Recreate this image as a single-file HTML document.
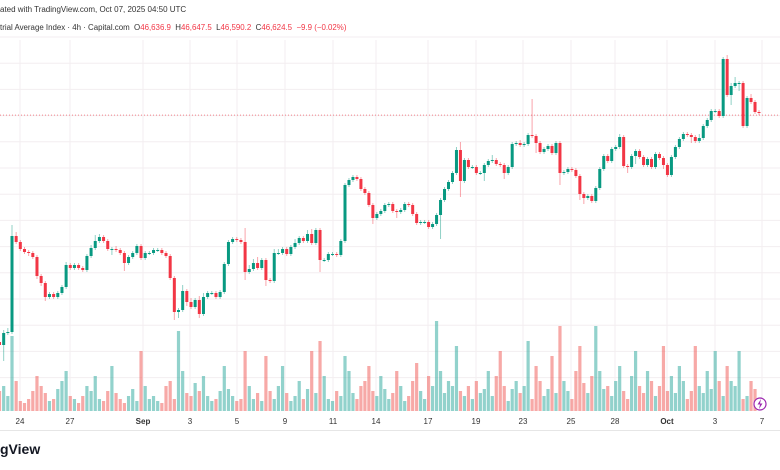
<!DOCTYPE html>
<html><head><meta charset="utf-8"><style>
body{margin:0;width:780px;height:470px;overflow:hidden;background:#fff;font-family:"Liberation Sans",sans-serif;position:relative}
.t{position:absolute;white-space:nowrap;color:#131722}
</style></head><body>
<div class="t" style="left:0;top:5px;font-size:8px;color:#333">ated with TradingView.com, Oct 07, 2025 04:50 UTC</div>
<div class="t" style="left:0;top:23px;font-size:7.9px;color:#333">trial Average Index · 4h · Capital.com&nbsp; O<span style="color:#f23645">46,636.9</span>&nbsp; H<span style="color:#f23645">46,647.5</span>&nbsp; L<span style="color:#f23645">46,590.2</span>&nbsp; C<span style="color:#f23645">46,624.5</span>&nbsp; <span style="color:#f23645">−9.9 (−0.02%)</span></div>
<div class="t" style="left:0;top:441px;font-size:14px;font-weight:bold">gView</div>
<svg id="c" width="780" height="470" style="position:absolute;left:0;top:0"></svg>
<script>
const closes=[45475,45535,45540,46020,45990,45955,45940,45935,45915,45820,
45785,45715,45730,45715,45735,45765,45875,45860,45875,45860,
45850,45920,45960,45995,46015,45995,45955,45955,45950,45935,
45885,45915,45935,45970,45910,45935,45935,45950,45950,45935,
45920,45810,45640,45650,45745,45690,45665,45700,45630,45715,
45735,45735,45715,45740,45880,45990,46005,46000,45990,45840,
45855,45885,45860,45900,45800,45795,45935,45935,45955,45930,
45965,45985,46010,45995,46030,45985,46050,45900,45900,45930,
45930,45925,45995,46275,46300,46315,46305,46255,46235,46175,
46110,46130,46145,46175,46180,46145,46140,46150,46180,46175,
46130,46085,46090,46090,46065,46080,46125,46200,46255,46290,
46335,46450,46295,46400,46365,46365,46335,46335,46375,46395,
46400,46380,46375,46335,46365,46480,46485,46475,46480,46525,
46520,46485,46440,46455,46470,46435,46485,46335,46340,46355,
46350,46320,46230,46210,46220,46195,46260,46355,46420,46395,
46455,46465,46515,46370,46365,46420,46445,46415,46375,46405,
46365,46430,46410,46375,46325,46415,46465,46505,46530,46525,
46515,46495,46510,46570,46600,46645,46645,46620,46905,46725,
46770,46785,46785,46570,46710,46690,46640,46635];
const wickUp=[10,15,20,55,20,10,10,10,10,10,10,10,10,10,10,10,15,10,10,10,10,10,15,30,15,10,10,10,15,10,10,10,10,10,10,10,10,10,10,10,10,10,10,10,30,10,20,10,20,20,10,10,10,10,10,10,10,10,10,70,20,20,30,10,10,10,20,20,10,10,10,20,10,10,20,25,10,10,10,10,10,10,10,10,10,10,10,10,10,10,10,10,10,10,10,10,10,10,10,10,10,10,10,10,10,10,10,10,10,10,10,15,40,10,10,10,10,10,10,10,25,10,10,10,10,10,10,15,10,10,180,10,10,10,10,10,10,10,10,10,10,10,10,10,10,10,10,10,10,10,10,10,15,10,10,10,10,10,10,10,10,10,10,10,10,10,10,10,10,10,10,10,20,10,10,10,10,10,10,20,15,30,10,10,10,20,10,10];
const wickDn=[20,80,10,10,10,10,10,15,10,15,15,20,10,10,10,10,10,10,10,10,10,10,10,10,10,10,10,30,10,10,40,10,10,10,10,10,10,10,10,10,10,10,40,30,10,20,10,10,20,10,10,10,10,10,10,10,10,10,10,40,10,10,10,10,30,10,10,10,10,10,10,10,10,10,10,10,10,60,10,10,10,10,10,10,10,10,10,10,10,10,30,10,10,10,10,10,30,10,10,10,10,10,10,10,10,10,10,120,10,10,10,10,80,10,10,10,10,10,40,10,10,10,10,30,10,10,10,10,10,10,10,50,10,10,10,10,10,60,10,10,10,10,30,30,10,10,10,10,10,10,10,10,10,10,30,10,40,10,10,10,10,10,10,20,10,10,10,10,10,10,30,10,10,10,10,10,10,10,10,10,50,10,40,10,10,10,10,10,10,10];
const volumes=[20,25,15,75,30,10,8,12,20,35,25,18,10,12,22,30,40,15,12,8,15,25,20,35,12,10,20,45,18,12,8,15,22,10,60,25,12,15,10,8,25,30,12,80,40,18,15,28,20,35,15,10,12,20,45,22,15,10,12,60,25,12,18,10,55,20,12,25,45,18,10,15,30,12,22,60,18,70,35,12,10,20,15,55,40,18,12,25,30,45,20,15,35,22,12,18,40,25,10,15,30,48,20,12,35,25,90,40,18,30,25,65,20,15,25,12,30,18,22,40,15,35,60,25,10,22,30,18,25,70,12,45,30,15,22,55,18,85,30,20,12,40,65,28,18,35,85,40,22,25,15,30,45,20,12,35,60,25,18,40,30,15,25,65,20,35,18,45,30,12,20,65,25,18,40,22,60,30,15,45,30,25,60,12,15,30,22];
const xLabels=["24","27","Sep","3","5","9","11","14","17","19","23","25","28","Oct","3","7"];
const xLabelPos=[20,70,143,190,237,285,333,376,428,476,523,571,615,667,715,762];
const NS="http://www.w3.org/2000/svg",svg=document.getElementById('c');
const N=closes.length;
const xOf=i=>i<=83?(12+(i-3)*(333/80)):(345+(i-83)*((759-345)/(N-1-83)));
const yOf=p=>(47200-p)/5;
const vBase=411,vScale=1;
function mk(t,a){const e=document.createElementNS(NS,t);for(const k in a)e.setAttribute(k,a[k]);svg.appendChild(e);return e;}
for(let k=0;k<14;k++){const g=mk('line',{x1:0,x2:780,y1:37+26.2*k,y2:37+26.2*k,stroke:'#f3eef0','stroke-width':1});

}
xLabelPos.forEach((x,i)=>{const g=mk('line',{x1:x,x2:x,y1:40,y2:411,stroke:'#f3eef0','stroke-width':1});


const t=mk('text',{x:x,y:424,'font-size':8,'text-anchor':'middle',fill:'#333','font-family':'Liberation Sans, sans-serif','font-weight':(xLabels[i]=='Sep'||xLabels[i]=='Oct')?'bold':'normal'});t.textContent=xLabels[i];

});
const ax=mk('line',{x1:0,x2:780,y1:430.5,y2:430.5,stroke:'#e6e6e6'});


closes.forEach((c,i)=>{const o=i?closes[i-1]:45490;const up=c>=o;const x=xOf(i);
const vb=mk('rect',{x:x-1.6,y:vBase-volumes[i]*vScale,width:3.2,height:volumes[i]*vScale,fill:up?'#26a69a':'#ef5350','fill-opacity':0.5});

});
const pl=mk('line',{x1:0,x2:780,y1:yOf(46624.5),y2:yOf(46624.5),stroke:'#f23645','stroke-dasharray':'1,2','stroke-opacity':0.6});


closes.forEach((c,i)=>{const o=i?closes[i-1]:45490;const up=c>=o;const x=xOf(i);const col=up?'#089981':'#f23645';
const hi=Math.max(o,c)+wickUp[i],lo=Math.min(o,c)-wickDn[i];
const w=mk('line',{x1:x,x2:x,y1:yOf(hi),y2:yOf(lo),stroke:col,'stroke-opacity':0.45,'stroke-width':1});


const b=mk('rect',{x:x-1.5,y:yOf(Math.max(o,c)),width:3,height:Math.max(1,Math.abs(yOf(o)-yOf(c))),fill:col});

});
const ic=mk('circle',{cx:760,cy:404,r:6,fill:'#fff',stroke:'#9c27b0','stroke-width':1.2});


const bolt=mk('path',{d:'M761 399 L757.5 404.5 L760 404.5 L759 409 L762.5 403.5 L760 403.5 Z',fill:'#9c27b0'});


</script>
</body></html>
